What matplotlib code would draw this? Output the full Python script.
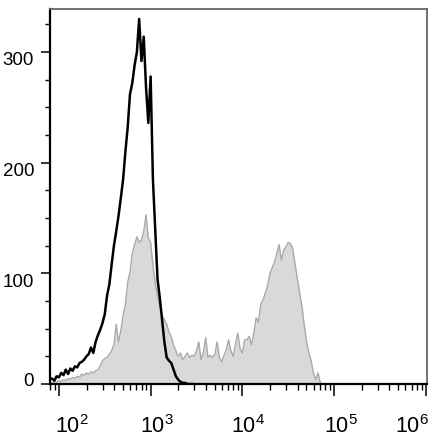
import numpy as np
import matplotlib
matplotlib.use('Agg')
import matplotlib.pyplot as plt
from matplotlib.ticker import FixedLocator, MultipleLocator, LogLocator, NullFormatter
from matplotlib.transforms import ScaledTranslation

# === CONFIG ===
plt.rcParams['font.family'] = ['Liberation Sans', 'DejaVu Sans']
plt.rcParams['mathtext.fontset'] = 'custom'
plt.rcParams['mathtext.rm'] = 'Liberation Sans'
plt.rcParams['mathtext.default'] = 'regular'

# === DATA (histogram channels, log10 spaced) ===
log_channel_start = 1.9
log_channel_step = 0.025

control_counts = [4, 5, 3, 7, 6, 10, 8, 13, 9, 14,
                  12, 16, 15, 19, 20, 22, 25, 27, 33, 28,
                  38, 44, 49, 55, 63, 80, 90, 108, 125, 138,
                  152, 168, 185, 210, 232, 262, 272, 288, 300, 330,
                  292, 314, 268, 236, 278, 185, 140, 95, 78, 58,
                  38, 24, 21, 19, 13, 7, 4, 2, 1, 1,
                  0, 0, 0]

stained_counts = [0, 1, 2, 2, 3, 2, 4, 3, 5, 4,
                  6, 5, 7, 6, 9, 8, 10, 9, 11, 10,
                  12, 13, 16, 21, 23, 24, 27, 30, 36, 54,
                  38, 48, 62, 72, 92, 101, 118, 126, 133, 128,
                  130, 138, 153, 132, 128, 107, 92, 80, 70, 62,
                  58, 54, 47, 43, 35, 30, 25, 28, 22, 25,
                  28, 24, 26, 25, 30, 38, 22, 28, 42, 24,
                  26, 24, 27, 38, 24, 20, 26, 31, 40, 30,
                  25, 36, 46, 32, 28, 40, 40, 43, 35, 46,
                  60, 56, 72, 76, 82, 89, 100, 105, 110, 118,
                  126, 112, 121, 124, 128, 127, 122, 108, 95, 82,
                  70, 53, 38, 28, 21, 10, 4, 10, 1, 0,
                  0]

y_ticks = [0, 100, 200, 300]
x_ticks = [1e2, 1e3, 1e4, 1e5, 1e6]
x_tick_labels = [r'$10^{2}$', r'$10^{3}$', r'$10^{4}$', r'$10^{5}$', r'$10^{6}$']

x_control = 10 ** (log_channel_start + log_channel_step * np.arange(len(control_counts)))
x_stained = 10 ** (log_channel_start + log_channel_step * np.arange(len(stained_counts)))

# === PLOT ===
fig = plt.figure(figsize=(4.4, 4.43), dpi=100)
ax = fig.add_axes([50 / 440, 59 / 443, 377 / 440, 375 / 443])

ax.fill_between(x_stained, stained_counts, 0, color='#dbd9d7', lw=0, zorder=1)
ax.plot(x_stained, stained_counts, color='#a9a9a9', lw=1.0, zorder=2)
ax.plot(x_control, control_counts, color='black', lw=1.8, zorder=3)

ax.set_xscale('log')
ax.set_xlim(80, 1.03e6)
ax.set_ylim(0, 339)

ax.xaxis.set_major_locator(FixedLocator(x_ticks))
ax.set_xticklabels(x_tick_labels)
ax.xaxis.set_minor_locator(LogLocator(base=10, subs=np.arange(2, 10)))
ax.xaxis.set_minor_formatter(NullFormatter())
ax.yaxis.set_major_locator(FixedLocator(y_ticks))
ax.yaxis.set_minor_locator(MultipleLocator(25))

ax.tick_params(axis='x', which='major', direction='out', length=8.5, width=1.1,
               pad=14, labelsize=15.5)
ax.tick_params(axis='x', which='minor', direction='out', length=4.3, width=1.0)
ax.tick_params(axis='y', which='major', direction='out', length=6.5, width=1.1,
               pad=5, labelsize=13.5)
ax.tick_params(axis='y', which='minor', direction='out', length=3.6, width=1.0)

for side in ['left', 'bottom']:
    ax.spines[side].set_color('black')
    ax.spines[side].set_linewidth(1.6)
for side in ['top', 'right']:
    ax.spines[side].set_color('#666666')
    ax.spines[side].set_linewidth(1.3)

# small label nudges as in the original
x_shift = [13, 6, 6, 7, -14]
for lab, dx in zip(ax.xaxis.get_majorticklabels(), x_shift):
    lab.set_transform(lab.get_transform() + ScaledTranslation(dx / 100, 0, fig.dpi_scale_trans))
y_shift = [5, -7, -7, -6]
for lab, dy in zip(ax.yaxis.get_majorticklabels(), y_shift):
    lab.set_transform(lab.get_transform() + ScaledTranslation(0, dy / 100, fig.dpi_scale_trans))

fig.savefig('out.png', dpi=100)
